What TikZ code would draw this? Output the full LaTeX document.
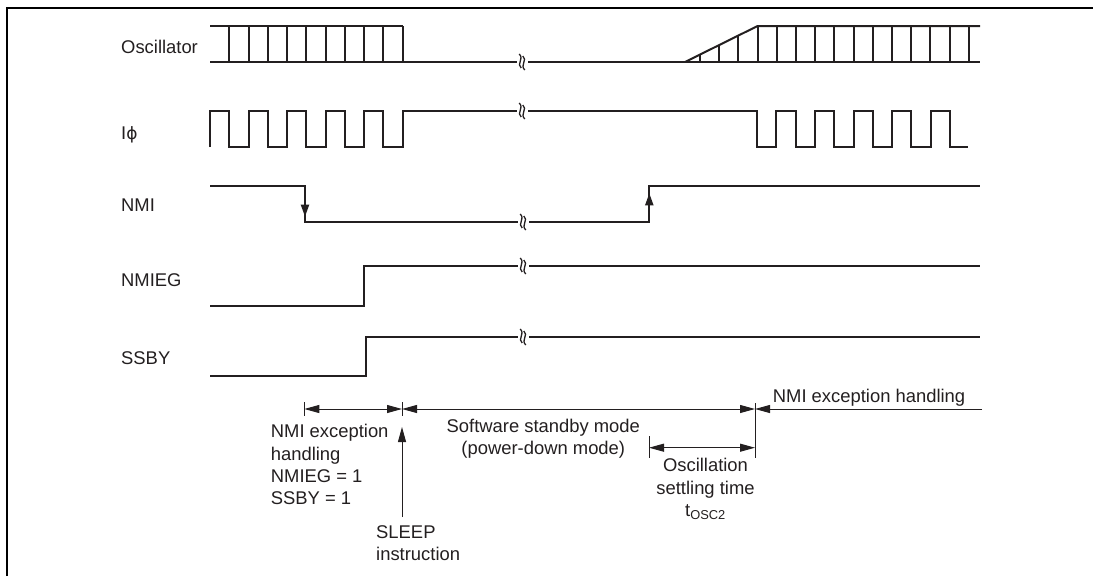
\documentclass[tikz,border=0pt]{standalone}
\usepackage{fontspec}
\setmainfont{Liberation Sans}
\newfontfamily\grkfont{DejaVu Sans}
\usetikzlibrary{arrows.meta,positioning}
\definecolor{ink}{HTML}{231F20}
\tikzset{
  sigline/.style={draw=ink,line width=2pt,line join=miter},
  frameline/.style={draw=black,line width=2.5pt},
  sigarr/.style={-{Triangle[length=12pt,width=8pt]},draw=ink,line width=2pt},
  tickline/.style={draw=ink,line width=1pt},
  dimarr/.style={{Triangle[length=15pt,width=8pt]}-{Triangle[length=15pt,width=8pt]},draw=ink,line width=1pt},
  onearr/.style={-{Triangle[length=15pt,width=8pt]},draw=ink,line width=1pt},
  siglabel/.style={anchor=base west,inner sep=0pt,text=ink},
  notelabel/.style={inner sep=0pt,text=ink},
  brk/.pic={
    \fill[white] (-5.5,-3) rectangle (5.5,3);
    \draw[ink,line width=1.3pt] (-2.8,-8) .. controls (2.5,-3) and (-6,2) .. (-0.8,6);
    \draw[ink,line width=1.3pt] (0.8,-6) .. controls (6,-2) and (-2.5,3) .. (2.8,8);
  }
}

\begin{document}
\begin{tikzpicture}[x=1pt,y=-1pt,font=\fontsize{18.4}{22.3}\selectfont]
  \useasboundingbox (0,0) rectangle (1093,576);
  \draw[frameline] (7,576) -- (7,8) -- (1093,8);

  % signal names
  \node[siglabel] (osclbl) at (121,53.3) {Oscillator};
  \node[siglabel] (iphilbl) at (121,139.5) {I{\grkfont\fontsize{17}{20}\selectfont ϕ}};
  \node[siglabel] (nmilbl) at (121,211) {NMI};
  \node[siglabel] (nmieglbl) at (121,286.7) {NMIEG};
  \node[siglabel] (ssbylbl) at (121,364) {SSBY};

  % oscillator
  \draw[sigline] (210,26) -- (402.7,26);
  \draw[sigline] (210,62) -- (980,62);
  \draw[sigline] (685,62) -- (757.6,26) -- (980,26);
  \foreach \k in {1,...,10}
    \draw[sigline] ({210+19.27*\k},26) -- ++(0,36);
  \foreach \k in {0,1,2}
    \draw[sigline] ({700+19.2*\k},62) -- ++(0,{-(15+19.2*\k)/2});
  \foreach \k in {3,...,14}
    \draw[sigline] ({700+19.2*\k},26) -- ++(0,36);

  % internal clock
  \draw[sigline] (210,147) -- (210,111)
    \foreach \k in {1,...,5} { -- ++(19.27,0) -- ++(0,36) -- ++(19.27,0) -- ++(0,-36) }
    -- (757,111) -- (757,147)
    \foreach \k in {1,...,5} { -- ++(19.3,0) -- ++(0,-36) -- ++(19.3,0) -- ++(0,36) }
    -- (968,147);

  % NMI, NMIEG, SSBY
  \draw[sigline] (210,186) -- (305,186) -- (305,222) -- (649.3,222) -- (649.3,186) -- (980,186);
  \draw[sigarr] (305,186) -- (305,216.7);
  \draw[sigarr] (649.3,222) -- (649.3,193.3);
  \draw[sigline] (210,306) -- (364,306) -- (364,266) -- (980,266);
  \draw[sigline] (210,376) -- (366,376) -- (366,337) -- (980,337);

  % breaks
  \foreach \y in {62,111} \pic at (522,\y) {brk};
  \foreach \y in {222,266,337} \pic at (523,\y) {brk};

  % time spans
  \coordinate (tkA) at (304.3,409);
  \coordinate (tkB) at (402,409);
  \coordinate (tkC) at (755,409);
  \coordinate (tkE) at (982,409);
  \coordinate (tkD) at (649,447.7);
  \coordinate (tkF) at (755,447.7);
  \coordinate (slpfoot) at (402,517);
  \coordinate (slptip) at (402,427);
  \draw[tickline] (304.3,402) -- (304.3,416);
  \draw[tickline] (402,402) -- (402,416);
  \draw[tickline] (755,403) -- (755,458);
  \draw[tickline] (649,436) -- (649,458);
  \draw[dimarr] (tkA) -- (tkB);
  \draw[dimarr] (tkB) -- (tkC);
  \draw[onearr] (tkE) -- (tkC);
  \draw[dimarr] (tkD) -- (tkF);
  \draw[onearr] (slpfoot) -- (slptip);

  \node[notelabel,anchor=north west,align=left] (nmiexc) at (270.7,424.3)
    {NMI exception\\handling\\NMIEG = 1\\SSBY = 1};
  \node[notelabel,anchor=north west,align=left] (sleep) at (376,525)
    {SLEEP\\instruction};
  \node[notelabel,anchor=north,align=center] (standby) at (543.3,419)
    {Software standby mode\\(power-down mode)};
  \node[notelabel,anchor=north,align=center] (settle) at (705.5,458.3)
    {Oscillation\\settling time\\t\textsubscript{OSC2}};
  \node[notelabel,anchor=base west] (nmihdl) at (772.7,402.7) {NMI exception handling};
\end{tikzpicture}
\end{document}
